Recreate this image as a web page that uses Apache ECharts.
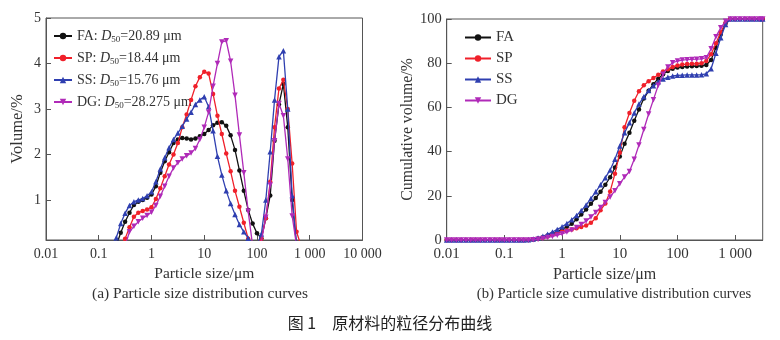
<!DOCTYPE html>
<html><head><meta charset="utf-8">
<script src="https://cdn.jsdelivr.net/npm/echarts@6/dist/echarts.min.js"></script>
<style>html,body{margin:0;padding:0;background:#fff}#c{width:780px;height:340px}</style>
</head><body><div id="c"></div><script>
// ---------- data ----------
const seriesNames = ['FA', 'SP', 'SS', 'DG'];
const d50Values = ['20.89', '18.44', '15.76', '28.275'];

// (a) particle size distribution, sizes in µm
const sizesA = [0.1,0.121,0.147,0.178,0.215,0.261,0.316,0.383,0.464,0.562,0.681,0.825,
  1,1.21,1.47,1.78,2.15,2.61,3.16,3.83,4.64,5.62,6.81,8.25,
  10,12.1,14.7,17.8,21.5,26.1,31.6,38.3,46.4,56.2,68.1,82.5,
  100,121,147,178,215,261,316,383,464,562,681,825,1000];
const volFA = [0,0,0,0,0,0.28,0.52,0.72,0.89,0.96,1.0,1.05,
  1.12,1.3,1.6,1.85,2.05,2.25,2.33,2.36,2.35,2.33,2.35,2.4,
  2.45,2.54,2.64,2.7,2.71,2.63,2.42,2.1,1.65,1.2,0.78,0.48,
  0.27,0.16,0.6,1.1,2.3,3.1,3.55,2.6,1.0,0,0,0,0];
const volSP = [0,0,0,0,0,0,0.15,0.4,0.63,0.72,0.76,0.79,
  0.84,1.02,1.26,1.52,1.78,2.0,2.25,2.6,2.88,3.2,3.5,3.7,
  3.82,3.78,3.33,2.85,2.45,2.02,1.63,1.2,0.85,0.5,0.15,0,
  0,0.15,0.6,1.4,2.6,3.45,3.64,3.0,1.8,0.3,0,0,0];
const volSS = [0,0,0,0.0,0.17,0.48,0.71,0.88,0.96,1.0,1.03,1.09,
  1.18,1.4,1.68,1.93,2.15,2.33,2.47,2.62,2.78,2.93,3.1,3.2,
  3.27,3.05,2.52,1.96,1.55,1.2,0.92,0.68,0.46,0.3,0.16,0,
  0,0.25,1.0,2.06,3.2,4.15,4.28,3.0,1.1,0,0,0,0];
const volDG = [0,0,0,0,0,0,0,0.3,0.42,0.52,0.6,0.66,
  0.73,0.88,1.08,1.3,1.52,1.7,1.82,1.9,1.97,2.03,2.13,2.33,
  2.6,2.93,3.5,4.0,4.47,4.5,4.05,3.3,2.43,1.6,0.75,0,
  0,0.1,0.62,1.33,2.3,3.12,2.85,1.9,0.65,0,0,0,0];

// (b) cumulative distribution, sizes in µm
const sizesB = [0.01,0.0121,0.0147,0.0178,0.0215,0.0261,0.0316,0.0383,0.0464,0.0562,0.0681,0.0825,
  0.1,0.121,0.147,0.178,0.215,0.261,0.316,0.383,0.464,0.562,0.681,0.825,
  1,1.21,1.47,1.78,2.15,2.61,3.16,3.83,4.64,5.62,6.81,8.25,
  10,12.1,14.7,17.8,21.5,26.1,31.6,38.3,46.4,56.2,68.1,82.5,
  100,121,147,178,215,261,316,383,464,562,681,825,
  1000,1210,1470,1780,2150,2610,3000];
const cumFA = [0,0,0,0,0,0,0,0,0,0,0,0,
  0,0,0,0,0,0,0.3,0.7,1.3,2.0,2.8,3.7,
  4.8,6.0,7.3,9.4,11.5,13.8,16.4,19.0,21.8,25.0,28.4,32.8,
  37.8,43.5,48.5,54.0,59.0,64.0,67.5,70.5,73.0,75.0,76.5,77.5,
  78.0,78.3,78.5,78.6,78.7,78.8,79.2,81.5,87.0,93.0,98.0,100,
  100,100,100,100,100,100,100];
const cumSP = [0,0,0,0,0,0,0,0,0,0,0,0,
  0,0,0,0,0,0,0.2,0.5,1.0,1.6,2.3,3.0,
  3.8,4.3,4.8,5.3,5.9,6.6,7.8,9.8,13.5,16.5,22.0,30.0,
  39.5,51.0,57.5,63.0,67.3,70.0,71.8,73.3,74.8,76.2,77.3,78.3,
  79.0,79.4,79.6,79.7,79.8,80.0,81.0,84.0,89.0,94.0,98.3,100,
  100,100,100,100,100,100,100];
const cumSS = [0,0,0,0,0,0,0,0,0,0,0,0,
  0,0,0,0,0,0.1,0.4,0.9,1.7,2.6,3.6,4.8,
  6.0,7.5,9.2,11.1,13.3,15.8,18.8,21.8,25.0,28.2,31.7,36.5,
  42.5,48.5,53.0,57.5,61.5,64.8,67.6,69.8,71.6,72.8,73.6,74.2,
  74.5,74.6,74.7,74.7,74.7,74.8,75.2,77.5,84.5,91.5,97.5,100,
  100,100,100,100,100,100,100];
const cumDG = [0,0,0,0,0,0,0,0,0,0,0,0,
  0,0,0,0,0,0,0.1,0.3,0.7,1.1,1.6,2.2,
  2.8,3.6,4.5,5.6,7.0,8.6,10.4,12.5,14.7,17.0,19.5,22.3,
  25.5,28.5,31.0,36.5,43.0,50.0,57.0,63.5,70.0,75.0,78.3,80.2,
  81.0,81.4,81.6,81.7,81.8,82.0,82.5,86.5,92.0,96.0,99.0,100,
  100,100,100,100,100,100,100];

const yTicksA = [1, 2, 3, 4, 5];

// ---------- styling ----------
const FONT = '"Liberation Serif", "Times New Roman", serif';
const TXT = '#333';
const AX = '#555';
const colors = ['#111111', '#f0202a', '#2f3fb0', '#b02ab8'];
const symbols = ['circle', 'circle', 'triangle', 'triangle'];
const symRot = [0, 0, 0, 180];
const symSize = [4.5, 4.5, 5.5, 5.5];

function fmtTick(v) {
  const n = Number(Number(v).toPrecision(6));
  if (n >= 1000) return String(n).replace(/\B(?=(\d{3})+(?!\d))/g, ' ');
  return String(n);
}
function pairs(xs, ys) { return xs.map((x, i) => [x, ys[i]]); }

const volData = [volFA, volSP, volSS, volDG];
const cumData = [cumFA, cumSP, cumSS, cumDG];

function mkSeries(data, xs, idx) {
  return data.map((ys, i) => ({
    name: seriesNames[i], type: 'line', xAxisIndex: idx, yAxisIndex: idx,
    data: pairs(xs, ys), symbol: symbols[i], symbolSize: symSize[i], symbolRotate: symRot[i],
    lineStyle: { color: colors[i], width: 1.3 }, itemStyle: { color: colors[i] },
    clip: true, animation: false, z: 3 + i
  }));
}

function xAxisCfg(gi, max, fs, nfs) {
  return {
    type: 'log', logBase: 10, gridIndex: gi, min: 0.01, max: max,
    axisLine: { show: true, lineStyle: { color: AX, width: 1 } },
    axisTick: { show: true, inside: true, length: 5, lineStyle: { color: AX } },
    axisLabel: { formatter: fmtTick, margin: 7, showMaxLabel: max === 10000, color: TXT, fontFamily: FONT, fontSize: fs },
    splitLine: { show: false }, minorTick: { show: false },
    name: 'Particle size/μm', nameLocation: 'middle', nameGap: 25,
    nameTextStyle: { color: TXT, fontFamily: FONT, fontSize: nfs }
  };
}

const chart = echarts.init(document.getElementById('c'), null, { renderer: 'canvas' });
chart.setOption({
  animation: false,
  backgroundColor: '#fff',
  grid: [
    { left: 46, top: 18, width: 316.5, height: 222, show: true, borderColor: AX, borderWidth: 1, containLabel: false },
    { left: 446.7, top: 19, width: 316, height: 221, show: true, borderColor: AX, borderWidth: 1, containLabel: false }
  ],
  xAxis: [xAxisCfg(0, 10000, 14, 15.5), xAxisCfg(1, 3000, 15, 16)],
  yAxis: [
    { type: 'value', gridIndex: 0, min: 0.12, max: 5,
      axisLine: { show: true, lineStyle: { color: AX } },
      axisTick: { show: true, inside: true, length: 5, customValues: yTicksA, lineStyle: { color: AX } },
      axisLabel: { customValues: yTicksA, margin: 5, color: TXT, fontFamily: FONT, fontSize: 14 },
      splitLine: { show: false },
      name: 'Volume/%', nameLocation: 'middle', nameGap: 20,
      nameTextStyle: { color: TXT, fontFamily: FONT, fontSize: 16.5 } },
    { type: 'value', gridIndex: 1, min: 0, max: 100, interval: 20,
      axisLine: { show: true, lineStyle: { color: AX } },
      axisTick: { show: true, inside: true, length: 5, lineStyle: { color: AX } },
      axisLabel: { margin: 5, color: TXT, fontFamily: FONT, fontSize: 14.5 },
      splitLine: { show: false },
      name: 'Cumulative volume/%', nameLocation: 'middle', nameGap: 30,
      nameTextStyle: { color: TXT, fontFamily: FONT, fontSize: 15.8 } }
  ],
  legend: [
    { orient: 'vertical', left: 48, top: 24, itemWidth: 18, itemHeight: 8, itemGap: 7,
      selectedMode: false, data: seriesNames,
      formatter: function (name) {
        const i = seriesNames.indexOf(name);
        return name + ': {i|D}{s|50}=' + d50Values[i] + ' μm';
      },
      textStyle: { color: TXT, fontFamily: FONT, fontSize: 14,
        rich: { i: { fontStyle: 'italic', fontFamily: FONT, fontSize: 14, color: TXT },
                s: { fontFamily: FONT, fontSize: 9, color: TXT, verticalAlign: 'bottom', lineHeight: 16 } } } },
    { orient: 'vertical', left: 459, top: 25, itemWidth: 26, itemHeight: 8, itemGap: 6,
      selectedMode: false, data: seriesNames,
      textStyle: { color: TXT, fontFamily: FONT, fontSize: 15 } }
  ],
  graphic: [
    { type: 'text', x: 200, y: 294, style: { text: '(a) Particle size distribution curves', align: 'center', verticalAlign: 'middle', fontFamily: FONT, fontSize: 15.5, fill: TXT } },
    { type: 'text', x: 614, y: 294, style: { text: '(b) Particle size cumulative distribution curves', align: 'center', verticalAlign: 'middle', fontFamily: FONT, fontSize: 14.7, fill: TXT } },
    { type: 'text', x: 390, y: 323, style: { text: '图 1　原材料的粒径分布曲线', align: 'center', verticalAlign: 'middle', fontFamily: '"Noto Sans CJK SC", sans-serif', fontSize: 16, fill: '#222' } }
  ],
  series: mkSeries(volData, sizesA, 0).concat(mkSeries(cumData, sizesB, 1))
});
</script></body></html>
